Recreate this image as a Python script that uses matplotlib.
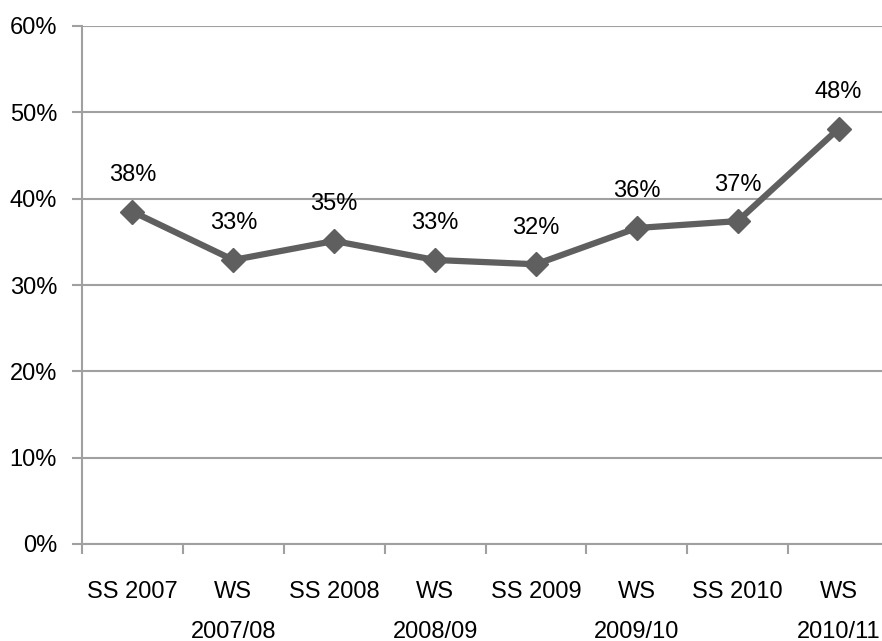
import numpy as np
import matplotlib.pyplot as plt

# Datos del gráfico
semestres = ['SS 2007', 'WS\n2007/08', 'SS 2008', 'WS\n2008/09',
             'SS 2009', 'WS\n2009/10', 'SS 2010', 'WS\n2010/11']
valores = [38.5, 32.9, 35.1, 32.9, 32.4, 36.6, 37.4, 48.1]
etiquetas = ['38%', '33%', '35%', '33%', '32%', '36%', '37%', '48%']
ticks_y = [0, 10, 20, 30, 40, 50, 60]

plt.rcParams['font.family'] = ['Liberation Sans Narrow', 'Liberation Sans', 'DejaVu Sans']

ancho, alto = 882, 641
fig = plt.figure(figsize=(ancho / 100, alto / 100), dpi=100)

# Ejes (el borde derecho queda fuera de la imagen, como en el original)
izq, der, arriba, abajo = 82, 889, 26, 544
ax = fig.add_axes([izq / ancho, (alto - abajo) / alto,
                   (der - izq) / ancho, (abajo - arriba) / alto])

x = np.arange(len(semestres))
color_linea = '#5f5f5f'
color_gris = '#a0a0a0'

ax.plot(x, valores, color=color_linea, linewidth=4.5, marker='D',
        markersize=12, zorder=3)

for xi, v, txt in zip(x, valores, etiquetas):
    ax.annotate(txt, (xi, v), xytext=(0, 22), textcoords='offset points',
                ha='center', va='baseline', fontsize=17, color='black')

ax.set_xlim(-0.5, len(semestres) - 0.5)
ax.set_ylim(0, 60)

# Eje y
ax.set_yticks(ticks_y)
ax.set_yticklabels([f'{t}%' for t in ticks_y], fontsize=17)
ax.tick_params(axis='y', length=7, width=1.5, color=color_gris, pad=11)
ax.grid(axis='y', color=color_gris, linewidth=1.5, zorder=0)

# Eje x: marcas entre categorías, etiquetas en el centro
ax.set_xticks(np.arange(-0.5, len(semestres), 1))
ax.set_xticklabels([])
ax.tick_params(axis='x', which='major', length=7, width=1.5, color=color_gris)
ax.set_xticks(x, minor=True)
ax.set_xticklabels(semestres, minor=True, fontsize=17, linespacing=2.0)
ax.tick_params(axis='x', which='minor', length=0, pad=27)

for lado in ['top', 'right']:
    ax.spines[lado].set_visible(False)
for lado in ['left', 'bottom']:
    ax.spines[lado].set_color(color_gris)
    ax.spines[lado].set_linewidth(1.5)

fig.savefig('out.png', dpi=100)
